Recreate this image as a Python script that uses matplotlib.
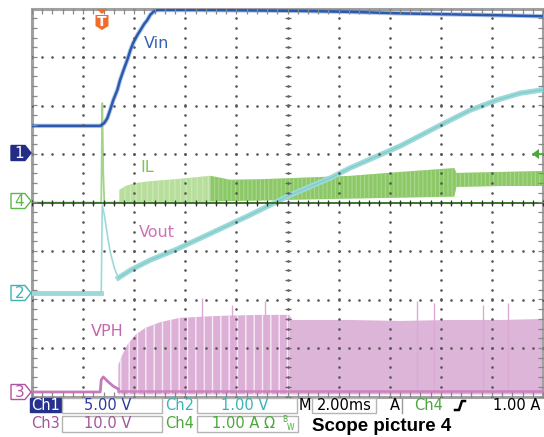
import numpy as np
import matplotlib.pyplot as plt
from matplotlib.patches import Polygon, Rectangle
from matplotlib.lines import Line2D

W, H = 544, 437

# time in ms (trigger at 0), screen is 10 div x 2 ms
# Ch1 Vin [V], 5 V/div
vin_t = [-2.75, -0.08, 0.08, 0.20, 0.31, 0.43, 0.59, 0.70, 0.86, 0.98, 1.10, 1.21, 1.37,
         1.49, 1.64, 1.76, 1.88, 2.00, 2.15, 3.84, 7.75, 9.71, 11.66, 13.62, 15.58, 17.25]
vin_v = [2.9, 2.9, 3.2, 3.7, 4.55, 5.55, 6.6, 7.65, 8.85, 9.7, 10.7, 11.45, 12.25,
         12.75, 13.4, 13.8, 14.35, 14.65, 14.85, 14.85, 14.75, 14.65, 14.5, 14.4, 14.3, 14.2]

# Ch2 Vout [V], 1 V/div
vout_t = [-2.75, -0.04, 0.0, 0.08, 0.20, 0.31, 0.47, 0.63, 1.10, 1.88, 2.86, 3.84, 5.79,
          7.36, 8.92, 9.71, 11.66, 13.23, 14.40, 15.46, 16.36, 17.25]
vout_v = [0, 0, 1.81, 1.61, 1.20, 0.85, 0.52, 0.31, 0.47, 0.68, 0.89, 1.13, 1.61,
          2.02, 2.37, 2.58, 3.03, 3.46, 3.77, 3.98, 4.12, 4.19]
vout_spike_end = 7   # thin transient ends here

# Ch4 IL [A], 1 A/div : start-up spike, then switching envelope
il_t = [-2.75, -0.04, 0.0, 0.04, 0.08, 0.67]
il_i = [0, 0, 2.05, 0.6, 0.0, 0.0]
il_env_t = [0.67, 0.90, 1.29, 1.88, 2.86, 3.84, 4.23, 5.01, 6.18, 7.75, 9.71, 11.66, 13.78, 13.86, 15.58, 17.25]
il_env_hi = [0.26, 0.34, 0.40, 0.44, 0.48, 0.53, 0.55, 0.47, 0.48, 0.51, 0.55, 0.63, 0.71, 0.61, 0.63, 0.65]
il_env_lo = [0.0, 0.0, 0.0, 0.0, 0.0, 0.01, 0.02, 0.03, 0.04, 0.06, 0.08, 0.10, 0.12, 0.32, 0.34, 0.34]
il_split = 6   # lighter burst region ends here

# Ch3 VPH [V], 10 V/div
vph_t = [-2.75, -0.08, -0.04, 0.04, 0.23, 0.43, 0.63]
vph_v = [0, 0, 2.5, 3.1, 2.1, 1.2, 0.6]
vph_env_t = [0.63, 0.78, 0.98, 1.29, 1.68, 2.27, 3.05, 4.62, 6.18, 7.32, 7.44, 9.71, 11.66, 13.62, 15.58, 17.25]
vph_env_v = [5.6, 7.6, 9.7, 11.75, 13.2, 14.4, 15.3, 15.7, 15.9, 15.9, 14.85, 14.85, 14.65, 14.85, 14.85, 15.05]
vph_split = 9
vph_spike_t = [3.91, 5.09, 6.38, 12.33, 12.99, 14.91, 15.89]
vph_spike_v = [19.4, 17.9, 18.8, 18.8, 18.4, 17.9, 18.4]

ch_scale = {1: 5.0, 2: 1.0, 3: 10.0, 4: 1.0}
ch_offset = {1: 1.0, 2: -1.866, 3: -3.907, 4: 0.0}


def scr(vals, ch):
    return ch_offset[ch] + np.asarray(vals, dtype=float) / ch_scale[ch]


def P(x, y):
    return (x / W, 1 - y / H)


fig = plt.figure(figsize=(W / 100, H / 100), dpi=100)
fig.patch.set_facecolor('white')
ax = fig.add_axes([32 / W, 1 - 396.5 / H, 511 / W, 388 / H])
T0 = -2.75
ax.set_xlim(T0, T0 + 20)
ax.set_ylim(-4, 4)
ax.set_xticks([])
ax.set_yticks([])
for s in ax.spines.values():
    s.set_color('#a0a0a0')
    s.set_linewidth(2.2)

# graticule
xs_minor = T0 + np.arange(0, 20.01, 0.4)
ys_minor = np.arange(-4, 4.01, 0.2)
gdot = dict(ls='none', marker='s', ms=0.8, color='#555555', zorder=7)
for k in range(1, 10):
    ax.plot(np.full_like(ys_minor, T0 + 2 * k), ys_minor, **gdot)
for j in range(-3, 4):
    ax.plot(xs_minor, np.full_like(xs_minor, j), **gdot)
xc = T0 + 10
ax.plot(np.full_like(ys_minor, xc), ys_minor, ls='none', marker='_', ms=5, mew=0.9,
        color='#666666', zorder=7)
ax.plot(xs_minor, np.zeros_like(xs_minor), ls='none', marker='|', ms=5, mew=0.9,
        color='#333333', zorder=7)
for xe in (T0, T0 + 20):
    ax.plot(np.full_like(ys_minor, xe), ys_minor, ls='none', marker='_', ms=7, mew=0.9,
            color='#888888', zorder=7)
for ye in (-4, 4):
    ax.plot(xs_minor, np.full_like(xs_minor, ye), ls='none', marker='|', ms=7, mew=0.9,
            color='#888888', zorder=7)

# VPH
with plt.rc_context({'hatch.color': '#f6ecf4', 'hatch.linewidth': 1.0}):
    ax.fill_between(vph_env_t[:vph_split + 1], scr(0, 3) - 0.05, scr(vph_env_v[:vph_split + 1], 3),
                    facecolor='#dcb0d7', edgecolor='none', hatch='||', lw=0, zorder=2)
ax.fill_between(vph_env_t[vph_split:], scr(0, 3) - 0.05, scr(vph_env_v[vph_split:], 3),
                facecolor='#ddb5d9', edgecolor='none', lw=0, zorder=2)
ax.vlines(vph_spike_t, scr(0, 3), scr(vph_spike_v, 3), color='#dcaad6', lw=1, zorder=2)
ax.plot(vph_t, scr(vph_v, 3), color='#c77ab9', lw=2, zorder=3)
ax.plot(vph_env_t, np.full(len(vph_env_t), scr(0.3, 3)), color='#cc82bf', lw=1.8, zorder=3)

# IL
with plt.rc_context({'hatch.color': '#cde9b8', 'hatch.linewidth': 0.8}):
    ax.fill_between(il_env_t[:il_split + 1], scr(il_env_lo[:il_split + 1], 4),
                    scr(il_env_hi[:il_split + 1], 4), facecolor='#b8de9c', hatch='|||', lw=0, zorder=3)
with plt.rc_context({'hatch.color': '#a9d78c', 'hatch.linewidth': 0.8}):
    ax.fill_between(il_env_t[il_split:], scr(il_env_lo[il_split:], 4), scr(il_env_hi[il_split:], 4),
                    facecolor='#8cc868', hatch='||||', lw=0, zorder=3)
ax.plot(il_t, scr(il_i, 4), color='#a3d48a', lw=1.3, zorder=3)
ax.plot(il_env_t + [T0], np.zeros(len(il_env_t) + 1), color='#3d7a2e', lw=1.4, zorder=6)

# Vout
s = vout_spike_end
ax.plot(vout_t[:s + 1], scr(vout_v[:s + 1], 2), color='#9ed9d9', lw=1.2, zorder=4)
ax.plot(vout_t[:2], scr(vout_v[:2], 2), color='#9ed9d9', lw=3.5, zorder=4)
ax.plot(vout_t[s:], scr(vout_v[s:], 2), color='#9ed9d9', lw=3.8, zorder=4, solid_joinstyle='round')
ax.plot(vout_t[s:], scr(vout_v[s:], 2), color='#82cdcd', lw=1.0, zorder=4)

# Vin
ax.plot(vin_t, scr(vin_v, 1), color='#2f5fb3', lw=3.2, alpha=0.35, zorder=6)
ax.plot(vin_t, scr(vin_v, 1), color='#2a5ab0', lw=1.8, zorder=6)

# trace labels
lab = dict(fontsize=11.5, family='DejaVu Sans', ha='center', va='center')
fig.text(*P(157, 44), 'Vin', color='#3661b0', **lab)
fig.text(*P(147, 167), 'IL', color='#7cc456', **lab)
fig.text(*P(157, 233), 'Vout', color='#cf72b6', **lab)
fig.text(*P(107, 332), 'VPH', color='#c667ad', **lab)


def add_poly(pts, fc, ec, lw=1.0, z=10):
    fig.add_artist(Polygon([P(x, y) for x, y in pts], closed=True, facecolor=fc,
                           edgecolor=ec, linewidth=lw, transform=fig.transFigure, zorder=z))


# channel ground markers
markers = [('1', 153, '#232c86', '#232c86', 'white'),
           ('4', 201, 'white', '#5fb54a', '#5fb54a'),
           ('2', 293, 'white', '#3fb3b3', '#3fb3b3'),
           ('3', 392, 'white', '#b055a0', '#b055a0')]
for name, yc, fc, ec, tc in markers:
    add_poly([(11, yc - 7.5), (25, yc - 7.5), (31, yc), (25, yc + 7.5), (11, yc + 7.5)], fc, ec)
    fig.text(*P(19.5, yc + 0.5), name, color=tc, fontsize=11, ha='center', va='center',
             family='DejaVu Sans', zorder=11)

# trigger position marker
add_poly([(96.5, 9), (107.5, 9), (102, 14)], '#f26b2b', 'none', z=12)
add_poly([(95.5, 15), (108.5, 15), (108.5, 26), (102, 30), (95.5, 26)], '#f26b2b', 'none', z=12)
fig.text(*P(102, 22), 'T', color='white', fontsize=10, fontweight='bold', ha='center',
         va='center', zorder=13)

# trigger level marker (right)
add_poly([(532, 154), (539, 149), (539, 159)], '#4ca83c', 'none')
fig.add_artist(Line2D([P(538, 154)[0], P(543, 154)[0]], [P(538, 154)[1]] * 2, color='#4ca83c',
                      lw=1.2, transform=fig.transFigure))


# status bar
def box(x0, y0, x1, y1, fc='white', ec='#b4b4b4'):
    (fx0, fy1), (fx1, fy0) = P(x0, y0), P(x1, y1)
    fig.add_artist(Rectangle((fx0, fy0), fx1 - fx0, fy1 - fy0, facecolor=fc, edgecolor=ec,
                             lw=1, transform=fig.transFigure, zorder=9))


st = dict(fontsize=10.5, family='DejaVu Sans', va='center', zorder=12)
r1, r2 = 405.5, 424
box(30, 398, 61, 412, fc='#26308e', ec='#26308e')
fig.text(*P(45.5, r1), 'Ch1', color='white', ha='center', **st)
box(62, 398, 162, 413)
fig.text(*P(108, r1), '5.00 V', color='#2d3a9c', ha='center', **st)
fig.text(*P(180, r1), 'Ch2', color='#3ab4b4', ha='center', **st)
box(197, 398, 297, 413)
fig.text(*P(245, r1), '1.00 V', color='#3ab4b4', ha='center', **st)
fig.text(*P(305, r1), 'M', color='black', ha='center', **st)
box(312, 398, 376, 413)
fig.text(*P(344, r1), '2.00ms', color='black', ha='center', **st)
fig.text(*P(395, r1), 'A', color='black', ha='center', **st)
fig.add_artist(Line2D([402 / W, 402 / W], [1 - 398 / H, 1 - 413 / H], color='#999999', lw=1,
                      transform=fig.transFigure))
fig.text(*P(429, r1), 'Ch4', color='#4aa83a', ha='center', **st)
edge = [(455, 410), (459, 410), (462, 401), (465, 401)]
fig.add_artist(Line2D([x / W for x, y in edge], [1 - y / H for x, y in edge], color='black',
                      lw=1.8, transform=fig.transFigure))
fig.text(*P(517, r1), '1.00 A', color='black', ha='center', **st)

fig.text(*P(45.5, r2), 'Ch3', color='#a3559a', ha='center', **st)
box(62, 416, 162, 432)
fig.text(*P(108, r2), '10.0 V', color='#a3559a', ha='center', **st)
fig.text(*P(180, r2), 'Ch4', color='#4aa83a', ha='center', **st)
box(197, 416, 298, 432)
fig.text(*P(212, r2), '1.00 A Ω', color='#4aa83a', ha='left', **st)
fig.text(*P(282, 419.5), 'B', color='#4aa83a', fontsize=5.5, ha='left', va='center', zorder=12)
fig.text(*P(287, 427), 'W', color='#4aa83a', fontsize=5.5, ha='left', va='center', zorder=12)
fig.text(*P(312, 426.5), 'Scope picture 4', color='black', fontsize=13.5, fontweight='bold',
         family='Liberation Sans', ha='left', va='center', zorder=12)

fig.savefig('out.png', dpi=100, facecolor='white')
